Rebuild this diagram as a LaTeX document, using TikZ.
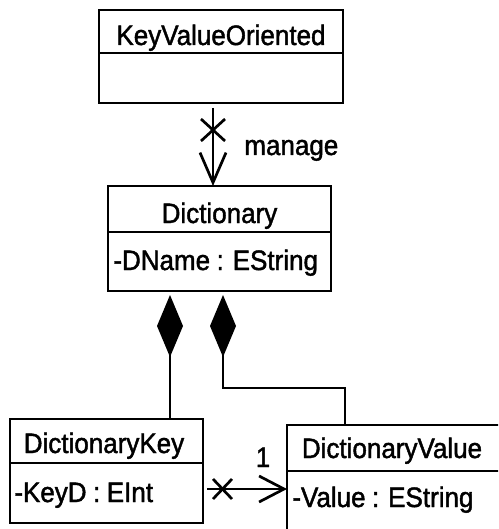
\documentclass[tikz,border=0pt]{standalone}
\usepackage{fontspec}
\usepackage{graphicx}
\setmainfont{Liberation Sans}[WordSpace=0.9,BoldFont={Liberation Sans},BoldFeatures={FakeBold=1.6}]
\usetikzlibrary{arrows.meta}
\newcommand\umltext[1]{\scalebox{1}[1.08]{\bfseries #1}}
\begin{document}
\begin{tikzpicture}[x=1pt,y=-1pt,line width=2.7pt,
  classbox/.style={draw,rectangle,inner sep=0pt,outer sep=0pt,anchor=north west},
  label/.style={inner sep=0pt,anchor=base,font=\fontsize{26}{30}\selectfont},
  attr/.style={inner sep=0pt,anchor=base west,font=\fontsize{26}{30}\selectfont},
  navarrow/.style={-{Straight Barb[length=#1,width=26pt,line width=2.7pt]}},
  composite/.style={{Diamond[length=62pt,width=26pt]}-}]
\useasboundingbox (0,0) rectangle (498,529);
\clip (0,0) rectangle (498,529);
\fill[white] (0,0) rectangle (498,529);

% classes
\node[classbox,minimum width=244pt,minimum height=93pt] (kvo) at (99,10) {};
\node[classbox,minimum width=223pt,minimum height=105pt] (dict) at (108,186) {};
\node[classbox,minimum width=193pt,minimum height=104pt] (dk) at (10,419) {};
\node[classbox,minimum width=213pt,minimum height=130pt] (dv) at (287,425) {};

% compartment separators
\draw ([yshift=-43pt]kvo.north west) -- ([yshift=-43pt]kvo.north east);
\draw ([yshift=-46pt]dict.north west) -- ([yshift=-46pt]dict.north east);
\draw ([yshift=-44pt]dk.north west) -- ([yshift=-44pt]dk.north east);
\draw ([yshift=-46pt]dv.north west) -- ([yshift=-46pt]dv.north east);

% names and attributes
\node[label] (kvoname) at (221,45) {\umltext{KeyValueOriented}};
\node[label] (dictname) at (219.5,223) {\umltext{Dictionary}};
\node[attr] (dictattr) at (112,270) {\umltext{-DName : EString}};
\node[label] (dkname) at (104,453) {\umltext{DictionaryKey}};
\node[attr] (dkattr) at (13,502) {\umltext{-KeyD : EInt}};
\node[label] (dvname) at (392,458) {\umltext{DictionaryValue}};
\node[attr] (dvattr) at (291,507) {\umltext{-Value : EString}};

% anchor columns/rows for the connectors
\coordinate (mcol) at (213,0);
\coordinate (kcol) at (170,0);
\coordinate (vcol) at (223,0);
\coordinate (vturn) at (345,388);
\coordinate (krow) at (0,489);

% manage association
\draw[navarrow=30pt,shorten <=5pt] (kvo.south -| mcol) -- (dict.north -| mcol);
\draw (201,119) -- (225,141) (201,141) -- (225,119);
\node[attr] (manage) at (243,155) {\umltext{manage}};

% compositions
\draw[composite,shorten <=4pt] (dict.south -| kcol) -- (dk.north -| kcol);
\draw[composite,shorten <=4pt] (dict.south -| vcol) |- (vturn) -- (dv.north -| vturn);

% key to value association
\draw[navarrow=25pt,shorten <=4pt] (dk.east |- krow) -- (dv.west |- krow);
\draw (213,479) -- (232,499) (213,499) -- (232,479);
\node[label] (one) at (263,467) {\umltext{1}};
\end{tikzpicture}
\end{document}
